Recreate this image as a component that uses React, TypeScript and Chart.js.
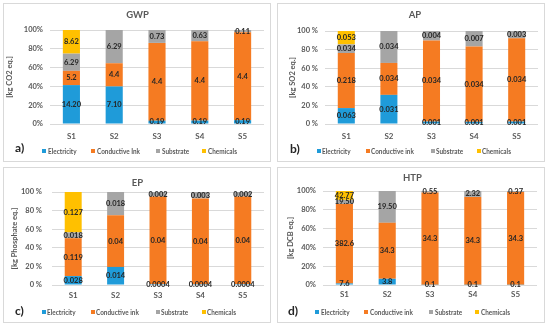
import React, { useEffect, useRef } from "react";
import { Chart, registerables } from "chart.js";

Chart.register(...registerables);
Chart.defaults.font.family = "Lato, 'Open Sans', sans-serif";

const categories = ["S1", "S2", "S3", "S4", "S5"];
const seriesNames = ["Electricity", "Conductive ink", "Substrate", "Chemicals"];
const gwpSeriesNames = ["Electricity", "Conductive Ink", "Substrate", "Chemicals"];
const seriesColors = ["#1f9bd9", "#f57b22", "#a5a5a5", "#ffc000"];
const yTickValues = [0, 20, 40, 60, 80, 100];

// a) GWP [kg CO2 eq.]
const gwpElectricity = [14.2, 7.1, 0.19, 0.19, 0.19];
const gwpInk = [5.2, 4.4, 4.4, 4.4, 4.4];
const gwpSubstrate = [6.29, 6.29, 0.73, 0.63, 0.11];
const gwpChemicals = [8.62, null, null, null, null];

// b) AP [kg SO2 eq.]
const apElectricity = [0.063, 0.031, 0.001, 0.001, 0.001];
const apInk = [0.218, 0.034, 0.034, 0.034, 0.034];
const apSubstrate = [0.034, 0.034, 0.004, 0.007, 0.003];
const apChemicals = [0.053, null, null, null, null];

// c) EP [kg Phosphate eq.]
const epElectricity = [0.028, 0.014, 0.0004, 0.0004, 0.0004];
const epInk = [0.119, 0.04, 0.04, 0.04, 0.04];
const epSubstrate = [0.018, 0.018, 0.002, 0.003, 0.002];
const epChemicals = [0.127, null, null, null, null];

// d) HTP [kg DCB eq.]
const htpElectricity = [7.6, 3.8, 0.1, 0.1, 0.1];
const htpInk = [382.6, 34.3, 34.3, 34.3, 34.3];
const htpSubstrate = [19.5, 19.5, 0.55, 2.32, 0.37];
const htpChemicals = [42.77, null, null, null, null];

const plain = (v: number) => String(v);
const twoDec = (v: number) => v.toFixed(2);

// legend item offsets (px) from the first swatch
const legendOffsets = [0, 49, 114, 160];

type Series = { values: (number | null)[]; fmt: (v: number) => string };
type PanelCfg = {
  title: string; yTitle: string; suffix: string; letter: string; names: string[];
  series: Series[];
  left: number; top: number; w: number; h: number;
  pl: number; pr: number; pt: number; pb: number;
  titleCx: number; titleC: number; xLabC: number; legC: number; legX: number;
  yTitleC: number; tickPad: number;
  letterX: number; letterY: number;
};

const panels: PanelCfg[] = [
  {
    title: "GWP", yTitle: "[kg CO2 eq.]", suffix: "%", letter: "a)", names: gwpSeriesNames,
    series: [
      { values: gwpElectricity, fmt: twoDec },
      { values: gwpInk, fmt: plain },
      { values: gwpSubstrate, fmt: plain },
      { values: gwpChemicals, fmt: plain },
    ],
    left: 3, top: 3, w: 268, h: 159,
    pl: 47, pr: 261, pt: 27, pb: 121, titleCx: 134.5, titleC: 12, xLabC: 133, legC: 147.5, legX: 39,
    yTitleC: 6.5, tickPad: 7, letterX: 12, letterY: 145,
  },
  {
    title: "AP", yTitle: "[kg SO2 eq.]", suffix: " %", letter: "b)", names: seriesNames,
    series: [
      { values: apElectricity, fmt: plain },
      { values: apInk, fmt: plain },
      { values: apSubstrate, fmt: plain },
      { values: apChemicals, fmt: plain },
    ],
    left: 277, top: 3, w: 268, h: 159,
    pl: 48, pr: 261, pt: 28, pb: 121, titleCx: 138, titleC: 12, xLabC: 133, legC: 147.5, legX: 39.5,
    yTitleC: 16, tickPad: 7, letterX: 13, letterY: 146,
  },
  {
    title: "EP", yTitle: "[kg Phosphate eq.]", suffix: " %", letter: "c)", names: seriesNames,
    series: [
      { values: epElectricity, fmt: plain },
      { values: epInk, fmt: plain },
      { values: epSubstrate, fmt: plain },
      { values: epChemicals, fmt: plain },
    ],
    left: 3, top: 167, w: 268, h: 156,
    pl: 49, pr: 261, pt: 25, pb: 118, titleCx: 134.5, titleC: 16, xLabC: 128, legC: 144.5, legX: 38.5,
    yTitleC: 12, tickPad: 10, letterX: 12, letterY: 144,
  },
  {
    title: "HTP", yTitle: "[kg DCB eq.]", suffix: "%", letter: "d)", names: seriesNames,
    series: [
      { values: htpElectricity, fmt: plain },
      { values: htpInk, fmt: plain },
      { values: htpSubstrate, fmt: twoDec },
      { values: htpChemicals, fmt: plain },
    ],
    left: 277, top: 167, w: 268, h: 156,
    pl: 46, pr: 260, pt: 24, pb: 118, titleCx: 135.5, titleC: 11, xLabC: 127, legC: 144.5, legX: 38,
    yTitleC: 14, tickPad: 7, letterX: 11, letterY: 144,
  },
];

const valueLabels = {
  id: "valueLabels",
  afterDatasetsDraw(chart: any) {
    const ctx = chart.ctx;
    ctx.save();
    ctx.font = "bold 7.5px Lato, 'Open Sans', sans-serif";
    ctx.fillStyle = "#262626";
    ctx.textAlign = "center";
    ctx.textBaseline = "middle";
    chart.data.datasets.forEach((ds: any, di: number) => {
      const meta = chart.getDatasetMeta(di);
      meta.data.forEach((el: any, i: number) => {
        const raw = ds.rawValues[i];
        if (raw == null) return;
        const p = el.getProps(["x", "y", "base"], true);
        ctx.fillText(ds.fmt(raw), p.x, (p.y + p.base) / 2);
      });
    });
    ctx.restore();
  },
};

const TITLE_SIZE = 9.5;
const X_SIZE = 8;
const Y_TITLE_SIZE = 7.5;
const PAD_BOTTOM = 2;

function Panel({ cfg }: { cfg: PanelCfg }) {
  const ref = useRef<HTMLCanvasElement | null>(null);
  useEffect(() => {
    const totals = categories.map((_, i) =>
      cfg.series.reduce((s, ser) => s + (ser.values[i] ?? 0), 0)
    );
    const titleLH = TITLE_SIZE * 1.2;
    const yTitleLH = Y_TITLE_SIZE * 1.2;
    const padLeft = 2 * cfg.titleCx - cfg.pr;
    const chart = new Chart(ref.current as HTMLCanvasElement, {
      type: "bar",
      data: {
        labels: categories,
        datasets: cfg.series.map((ser, k) => ({
          label: cfg.names[k],
          data: ser.values.map((v, i) => (v == null ? null : (v / totals[i]) * 100)),
          rawValues: ser.values,
          fmt: ser.fmt,
          backgroundColor: seriesColors[k],
          borderWidth: 0,
          barPercentage: 0.4,
          categoryPercentage: 1,
        })) as any,
      },
      options: {
        animation: false,
        responsive: false,
        devicePixelRatio: 1,
        layout: { padding: { left: padLeft, right: cfg.w - cfg.pr, top: 0, bottom: PAD_BOTTOM } },
        plugins: {
          title: {
            display: true,
            text: cfg.title,
            color: "#595959",
            font: { size: TITLE_SIZE, weight: "bold" },
            padding: { top: cfg.titleC - titleLH / 2, bottom: cfg.pt - cfg.titleC - titleLH / 2 },
          },
          legend: { display: false },
          tooltip: { enabled: false },
        },
        scales: {
          x: {
            stacked: true,
            grid: { display: false, drawTicks: false },
            border: { display: false },
            ticks: {
              color: "#595959",
              font: { size: X_SIZE, weight: "bold" },
              padding: cfg.xLabC - cfg.pb - (X_SIZE * 1.2) / 2,
            },
            afterFit: (s: any) => { s.height = cfg.h - PAD_BOTTOM - cfg.pb; },
          },
          y: {
            stacked: true,
            min: 0,
            max: 100,
            afterBuildTicks: (s: any) => { s.ticks = yTickValues.map((v) => ({ value: v })); },
            ticks: {
              color: "#595959",
              font: { size: 7.5, weight: "bold" },
              padding: cfg.tickPad,
              callback: (v: any) => `${v}${cfg.suffix}`,
            },
            grid: { color: "#d9d9d9", drawTicks: false },
            border: { display: false },
            title: {
              display: true,
              text: cfg.yTitle,
              color: "#595959",
              font: { size: Y_TITLE_SIZE, weight: "bold" },
              padding: { top: cfg.yTitleC - yTitleLH / 2 - padLeft, bottom: 0 },
            },
            afterFit: (s: any) => { s.width = cfg.pl - padLeft; },
          },
        },
      } as any,
      plugins: [valueLabels],
    });
    return () => chart.destroy();
  }, []);
  return (
    <>
      <div
        style={{
          position: "absolute", left: cfg.left, top: cfg.top, width: cfg.w - 2, height: cfg.h - 2,
          border: "1px solid #d9d9d9", background: "#fff",
        }}
      />
      <canvas
        ref={ref}
        width={cfg.w}
        height={cfg.h}
        style={{ position: "absolute", left: cfg.left, top: cfg.top, width: cfg.w, height: cfg.h }}
      />
      {cfg.names.map((name, k) => (
        <div
          key={name}
          style={{
            position: "absolute",
            left: cfg.left + cfg.legX + legendOffsets[k],
            top: cfg.top + cfg.legC - 5,
            height: 10,
            display: "flex",
            alignItems: "center",
            whiteSpace: "nowrap",
            font: "bold 8px Lato, 'Open Sans', sans-serif",
            color: "#595959",
            lineHeight: "10px",
          }}
        >
          <span style={{ display: "inline-block", width: 4, height: 4, background: seriesColors[k], marginRight: 1.5 }} />
          <span style={{ display: "inline-block", transform: "scaleX(0.8)", transformOrigin: "0 50%" }}>{name}</span>
        </div>
      ))}
      <div
        style={{
          position: "absolute", left: cfg.left + cfg.letterX, top: cfg.top + cfg.letterY - 8,
          font: "bold 12px Lato, 'Open Sans', sans-serif", color: "#262626", lineHeight: "16px",
        }}
      >
        {cfg.letter}
      </div>
    </>
  );
}

export default function App() {
  return (
    <div style={{ position: "absolute", left: 0, top: 0, width: 550, height: 326, background: "#fff", overflow: "hidden" }}>
      {panels.map((p) => (
        <Panel key={p.title} cfg={p} />
      ))}
    </div>
  );
}
